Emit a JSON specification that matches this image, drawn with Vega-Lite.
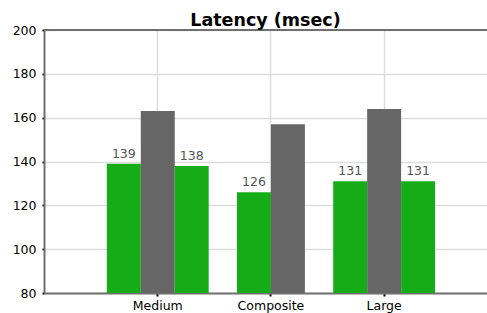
{
  "$schema": "https://vega.github.io/schema/vega-lite/v6.json",
  "width": 443,
  "height": 263,
  "autosize": {"type": "none"},
  "padding": {"left": 44, "top": 30, "right": 0, "bottom": 20},
  "background": "white",
  "title": {"text": "Latency (msec)", "font": "DejaVu Sans", "fontSize": 17.5, "fontWeight": "bold", "color": "#000000", "offset": -5, "anchor": "middle"},
  "config": {"view": {"stroke": null}, "font": "DejaVu Sans"},
  "data": {
    "values": [
      {"test": "Medium", "series": "S1", "latency": 139},
      {"test": "Medium", "series": "S2", "latency": 163},
      {"test": "Medium", "series": "S3", "latency": 138},
      {"test": "Composite", "series": "S1", "latency": 126},
      {"test": "Composite", "series": "S2", "latency": 157},
      {"test": "Large", "series": "S1", "latency": 131},
      {"test": "Large", "series": "S2", "latency": 164},
      {"test": "Large", "series": "S3", "latency": 131}
    ]
  },
  "layer": [
    {
      "encoding": {
        "x": {
          "field": "test", "type": "nominal", "sort": ["Medium", "Composite", "Large"],
          "scale": {"paddingInner": 0.1, "paddingOuter": 0.507, "align": 0.5475},
          "axis": {"title": null, "bandPosition": 0.5, "grid": true, "gridColor": "#dddddd", "gridWidth": 1.5, "domainColor": "#707070", "domainWidth": 2, "tickColor": "#000000", "tickSize": 3, "tickWidth": 2, "labelFontSize": 12.5, "labelColor": "#000000", "labelPadding": 3, "labelAngle": 0}
        },
        "y": {
          "field": "latency", "type": "quantitative",
          "scale": {"domain": [80, 200], "zero": false, "nice": false},
          "axis": {"title": null, "values": [80, 100, 120, 140, 160, 180, 200], "grid": true, "gridColor": "#dddddd", "gridWidth": 1.5, "domainColor": "#707070", "domainWidth": 2, "tickColor": "#000000", "tickSize": 2, "tickWidth": 2, "labelFontSize": 12.5, "labelColor": "#000000", "labelPadding": 6}
        }
      },
      "layer": [
        {
          "transform": [{"filter": "datum.test != 'Composite'"}],
          "mark": {"type": "bar", "clip": true},
          "encoding": {
            "xOffset": {"field": "series", "type": "nominal", "scale": {"type": "band", "domain": ["S1", "S2", "S3"], "paddingInner": 0, "paddingOuter": 0}},
            "color": {"field": "series", "type": "nominal", "scale": {"domain": ["S1", "S2", "S3"], "range": ["#16ac18", "#666666", "#16ac18"]}, "legend": null}
          }
        },
        {
          "transform": [{"filter": "datum.test != 'Composite' && datum.series != 'S2'"}],
          "mark": {"type": "text", "baseline": "alphabetic", "dy": -6, "fontSize": 12.5, "color": "#555555"},
          "encoding": {
            "xOffset": {"field": "series", "type": "nominal", "scale": {"type": "point", "domain": ["S1", "S2", "S3"], "padding": 0.5}},
            "text": {"field": "latency", "type": "quantitative"}
          }
        },
        {
          "transform": [{"filter": "datum.test == 'Composite'"}],
          "mark": {"type": "bar", "clip": true},
          "encoding": {
            "xOffset": {"field": "series", "type": "nominal", "scale": {"type": "band", "domain": ["S1", "S2"], "paddingInner": 0, "paddingOuter": 0.5}},
            "color": {"field": "series", "type": "nominal", "scale": {"domain": ["S1", "S2", "S3"], "range": ["#16ac18", "#666666", "#16ac18"]}, "legend": null}
          }
        },
        {
          "transform": [{"filter": "datum.test == 'Composite' && datum.series == 'S1'"}],
          "mark": {"type": "text", "baseline": "alphabetic", "dy": -6, "fontSize": 12.5, "color": "#555555"},
          "encoding": {
            "xOffset": {"field": "series", "type": "nominal", "scale": {"type": "point", "domain": ["S1", "S2"], "padding": 1}},
            "text": {"field": "latency", "type": "quantitative"}
          }
        }
      ],
      "resolve": {"scale": {"xOffset": "independent"}}
    },
    {
      "data": {"values": [{}]},
      "mark": {"type": "rule", "color": "#707070", "strokeWidth": 2},
      "encoding": {"y": {"datum": 200, "type": "quantitative"}}
    }
  ]
}
